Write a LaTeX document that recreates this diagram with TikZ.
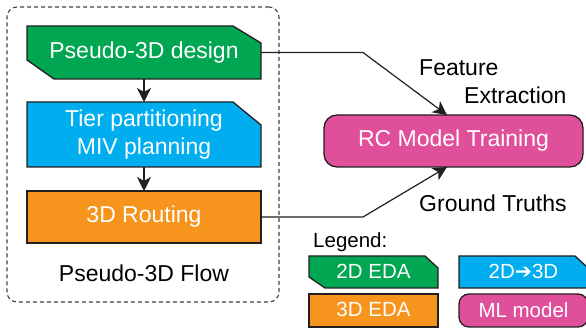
\documentclass[tikz,border=0pt]{standalone}
\usepackage{fontspec}
\setmainfont{Liberation Sans}
\newfontfamily\dejavu{DejaVu Sans}
\usetikzlibrary{arrows.meta,calc,backgrounds}
\definecolor{cgreen}{HTML}{00A651}
\definecolor{cblue}{HTML}{00AEEF}
\definecolor{corange}{HTML}{F7941D}
\definecolor{cpink}{HTML}{E0509A}
\definecolor{cline}{HTML}{231F20}
\begin{document}
\begin{tikzpicture}[x=1pt,y=-1pt,
  bd/.style={draw=cline,line width=1.3pt,line join=miter},
  boxtxt/.style={text=white,font=\fontsize{23}{28}\selectfont,inner sep=0pt,outer sep=0pt,align=center,minimum width=234pt},
  legtxt/.style={text=white,font=\fontsize{20.5}{24}\selectfont,inner sep=0pt,outer sep=0pt,minimum width=129pt},
  lbl/.style={text=black,font=\fontsize{23}{28}\selectfont,inner sep=0pt,anchor=base west},
  conn/.style={draw=cline,line width=1.2pt},
  arr/.style={conn,-{Stealth[length=14pt,width=14pt,inset=4pt]}}]

\useasboundingbox (0,0) rectangle (586,328);
\clip (0,0) rectangle (586,328);

% container
\node[draw=cline!85,line width=1.1pt,dash pattern=on 4pt off 3pt,rounded corners=10pt,
      minimum width=272pt,minimum height=295pt,inner sep=0pt] (flow) at (143,154.5) {};

% main flow boxes
\node[boxtxt,minimum height=53pt] (pd) at (144,52.5) {Pseudo-3D design};
\node[boxtxt,minimum height=65pt] (tp) at (144,134.5) {Tier partitioning\\MIV planning};
\node[boxtxt,bd,fill=corange,minimum height=52pt] (rt) at (144,217) {3D Routing};
\begin{pgfonlayer}{background}
  \draw[bd,fill=cgreen] (pd.north west) -- ($(pd.north east)+(-28,0)$) -- ($(pd.north east)+(0,17)$)
     -- (pd.south east) -- ($(pd.south west)+(27,0)$) -- ($(pd.south west)+(0,-19)$) -- cycle;
  \draw[bd,fill=cblue] (tp.north west) -- ($(tp.north east)+(-28,0)$) -- ($(tp.north east)+(0,23)$)
     -- (tp.south east) -- (tp.south west) -- cycle;
\end{pgfonlayer}

\node[text=black,font=\fontsize{23}{28}\selectfont,inner sep=0pt,anchor=base] (flowlbl) at (144,282) {Pseudo-3D Flow};

% RC model
\node[boxtxt,bd,fill=cpink,rounded corners=13pt,minimum width=259pt,minimum height=52pt] (rc) at (453.5,141) {RC Model Training};

% arrows in flow
\draw[arr] (pd.south) -- (tp.north);
\draw[arr] (tp.south) -- (rt.north);

% connectors to RC
\coordinate (j1) at (363,52.5);
\coordinate (j2) at (363,217);
\draw[arr] (pd.east) -- (j1) -- ([xshift=-6.5pt]rc.north);
\draw[arr] (rt.east) -- (j2) -- ([xshift=-6.5pt]rc.south);

\node[lbl] (fe1) at (419,76) {Feature};
\node[lbl] (fe2) at (464,104) {Extraction};
\node[lbl] (gt) at (419,212) {Ground Truths};

% legend
\node[lbl,font=\fontsize{20.5}{24}\selectfont] (leg) at (313,248) {Legend:};
\node[legtxt,minimum height=32pt] (l1) at (373.5,272) {\raisebox{1.5pt}{2D EDA}};
\node[legtxt,minimum height=32pt] (l2) at (523.5,272) {\raisebox{1.5pt}{2D{\dejavu ➔}3D}};
\begin{pgfonlayer}{background}
  \draw[bd,fill=cgreen] (l1.north west) -- ($(l1.north east)+(-13,0)$) -- ($(l1.north east)+(0,12)$)
     -- (l1.south east) -- ($(l1.south west)+(16,0)$) -- ($(l1.south west)+(0,-11)$) -- cycle;
  \draw[bd,fill=cblue] (l2.north west) -- ($(l2.north east)+(-13,0)$) -- ($(l2.north east)+(0,12)$)
     -- (l2.south east) -- (l2.south west) -- cycle;
\end{pgfonlayer}
\node[legtxt,bd,fill=corange,minimum height=33pt] (l3) at (373.5,310.5) {\raisebox{1.5pt}{3D EDA}};
\node[legtxt,bd,fill=cpink,rounded corners=10pt,minimum height=33pt] (l4) at (523.5,310.5) {\raisebox{1.5pt}{ML model}};
\end{tikzpicture}
\end{document}
